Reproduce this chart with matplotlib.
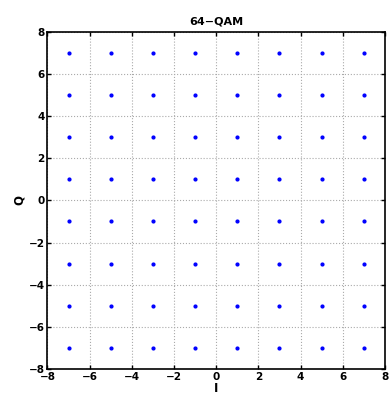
import matplotlib.pyplot as plt
import numpy as np

# 64-QAM constellation levels
niveles = [-7, -5, -3, -1, 1, 3, 5, 7]
ticks = [-8, -6, -4, -2, 0, 2, 4, 6, 8]

I, Q = np.meshgrid(niveles, niveles)

fig = plt.figure(figsize=(3.92, 3.98), dpi=100)
ax = fig.add_axes([0.121, 0.073, 0.861, 0.847])

ax.plot(I.ravel(), Q.ravel(), '.', color='blue', markersize=4)

ax.set_xlim(-8, 8)
ax.set_ylim(-8, 8)
ax.set_xticks(ticks)
ax.set_yticks(ticks)
ax.set_xticklabels([str(t).replace('-', '\u2212') for t in ticks], fontsize=7.5, fontweight='bold')
ax.set_yticklabels([str(t).replace('-', '\u2212') for t in ticks], fontsize=7.5, fontweight='bold')
ax.tick_params(direction='in', top=True, right=True, length=3, width=1, pad=2)
ax.grid(True, linestyle=':', color='#aaaaaa', linewidth=0.8)
for s in ax.spines.values():
    s.set_linewidth(1.2)

ax.set_title('64\u2212QAM', fontsize=8, fontweight='bold', pad=5)
ax.set_xlabel('I', fontsize=8.5, fontweight='bold', labelpad=0)
ax.set_ylabel('Q', fontsize=8.5, fontweight='bold', labelpad=2)

fig.savefig('out.png', dpi=100)
